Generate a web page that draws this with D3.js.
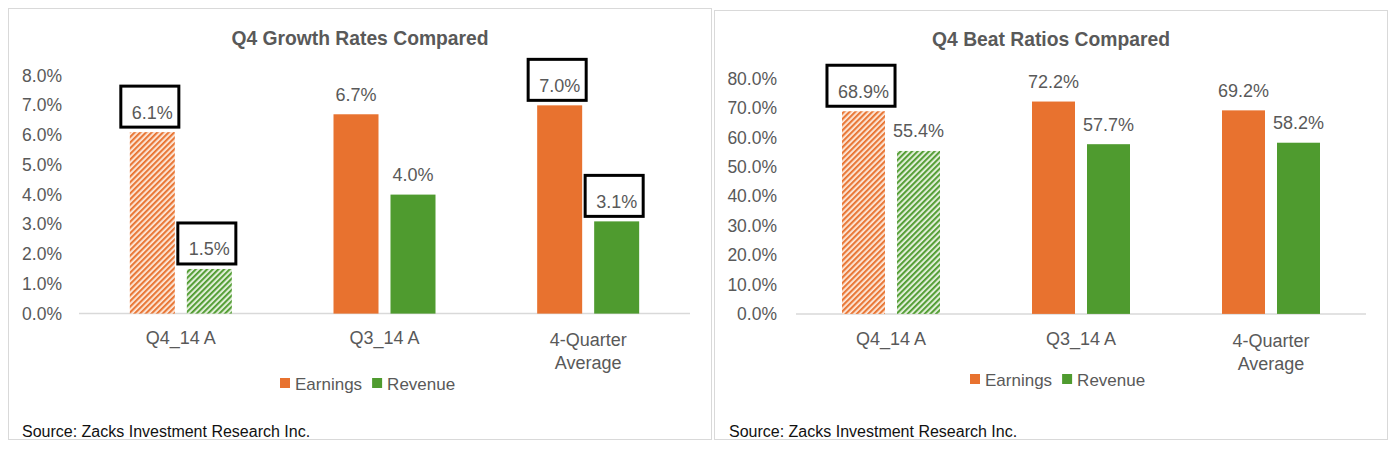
<!DOCTYPE html>
<html>
<head>
<meta charset="utf-8">
<script src="https://cdn.jsdelivr.net/npm/d3@7"></script>
<style>
  html, body { margin: 0; padding: 0; background: #ffffff; }
  svg { display: block; }
</style>
</head>
<body>
<svg id="chart" width="1398" height="449"></svg>
<script>
// ---------- DATA ----------
const categories = ["Q4_14 A", "Q3_14 A", "4-Quarter Average"];
const seriesNames = ["Earnings", "Revenue"];
const growthEarnings = [6.1, 6.7, 7.0];
const growthRevenue = [1.5, 4.0, 3.1];
const beatEarnings = [68.9, 72.2, 69.2];
const beatRevenue = [55.4, 57.7, 58.2];
const growthTicks = [0, 1, 2, 3, 4, 5, 6, 7, 8];
const beatTicks = [0, 10, 20, 30, 40, 50, 60, 70, 80];
const hatchedCategory = [true, false, false];          // Q4_14 A still in progress
const growthEarningsBoxed = [true, false, true];
const growthRevenueBoxed = [true, false, true];
const beatEarningsBoxed = [true, false, false];
const beatRevenueBoxed = [false, false, false];
const sourceText = "Source: Zacks Investment Research Inc.";

// ---------- STYLE ----------
const ORANGE = "#E8722F", GREEN = "#4F9B2F";
const ORANGE_LIGHT = "#F9CDB0", GREEN_LIGHT = "#CBE3BC";
const TEXT = "#595959";
const SANS = "'Liberation Sans', Arial, sans-serif";

const svg = d3.select("#chart");
const defs = svg.append("defs");
function hatch(id, dark, light) {
  const p = defs.append("pattern").attr("id", id)
    .attr("patternUnits", "userSpaceOnUse").attr("width", 4).attr("height", 4)
    .attr("patternTransform", "rotate(45)");
  p.append("rect").attr("width", 4).attr("height", 4).attr("fill", "#ffffff");
  p.append("rect").attr("x", 2.2).attr("width", 1.2).attr("height", 4).attr("fill", light);
  p.append("rect").attr("x", 0).attr("width", 1.9).attr("height", 4).attr("fill", dark);
}
hatch("hatchE", ORANGE, ORANGE_LIGHT);
hatch("hatchR", GREEN, GREEN_LIGHT);

const panels = [
  {
    title: "Q4 Growth Rates Compared", earnings: growthEarnings, revenue: growthRevenue,
    eBox: growthEarningsBoxed, rBox: growthRevenueBoxed, ticks: growthTicks, max: 8,
    frame: [8.5, 8.5, 703, 431], titleX: 360, titleY: 45,
    x0: 79, x1: 690, yBase: 313.6, yTop: 75.6, tickEnd: 62, half: 51,
    catY: 344, legendX: 280, legendY: 390, sourceX: 22, sourceY: 437
  },
  {
    title: "Q4 Beat Ratios Compared", earnings: beatEarnings, revenue: beatRevenue,
    eBox: beatEarningsBoxed, rBox: beatRevenueBoxed, ticks: beatTicks, max: 80,
    frame: [714.5, 10.5, 673, 429], titleX: 1051, titleY: 46,
    x0: 796, x1: 1366, yBase: 313.9, yTop: 78.6, tickEnd: 777, half: 49,
    catY: 345, legendX: 970, legendY: 386, sourceX: 729, sourceY: 437
  }
];

panels.forEach(P => {
  const g = svg.append("g");
  g.append("rect").attr("x", P.frame[0]).attr("y", P.frame[1])
    .attr("width", P.frame[2]).attr("height", P.frame[3])
    .attr("fill", "#fff").attr("stroke", "#d9d9d9").attr("stroke-width", 1);

  g.append("text").attr("x", P.titleX).attr("y", P.titleY)
    .attr("text-anchor", "middle").attr("fill", TEXT)
    .attr("font-family", SANS).attr("font-weight", "bold").attr("font-size", 19.3)
    .text(P.title);

  const y = d3.scaleLinear().domain([0, P.max]).range([P.yBase, P.yTop]);
  const x = d3.scaleBand().domain(categories).range([P.x0, P.x1]).paddingInner(0).paddingOuter(0);
  const bw = x.bandwidth();
  const xs = d3.scaleBand().domain(seriesNames)
    .range([bw / 2 - P.half, bw / 2 + P.half]).paddingInner(12 / (P.half + 6)).paddingOuter(0);

  // y axis labels
  const yAxis = d3.axisLeft(y).tickValues(P.ticks).tickSize(0)
    .tickPadding(P.x0 - P.tickEnd).tickFormat(d => d.toFixed(1) + "%");
  const ya = g.append("g").attr("transform", `translate(${P.x0},0)`).call(yAxis);
  ya.select(".domain").remove();
  ya.selectAll("text").attr("fill", TEXT).attr("font-family", SANS).attr("font-size", 17.5);

  // baseline
  g.append("line").attr("x1", P.x0).attr("x2", P.x1)
    .attr("y1", y(0)).attr("y2", y(0))
    .attr("stroke", "#d9d9d9").attr("stroke-width", 1.5);

  const rows = categories.map((c, i) => ({
    cat: c, i,
    vals: [
      { s: "Earnings", v: P.earnings[i], box: P.eBox[i] },
      { s: "Revenue", v: P.revenue[i], box: P.rBox[i] }
    ]
  }));

  const grp = g.selectAll(".grp").data(rows).join("g")
    .attr("transform", d => `translate(${x(d.cat)},0)`);

  grp.selectAll("rect.bar").data(d => d.vals.map(v => Object.assign({ hatched: hatchedCategory[d.i] }, v)))
    .join("rect").attr("class", "bar")
    .attr("x", d => xs(d.s)).attr("width", xs.bandwidth())
    .attr("y", d => y(d.v)).attr("height", d => y(0) - y(d.v))
    .attr("fill", d => d.hatched ? (d.s === "Earnings" ? "url(#hatchE)" : "url(#hatchR)")
      : (d.s === "Earnings" ? ORANGE : GREEN));

  const lab = grp.selectAll("g.lab").data(d => d.vals).join("g").attr("class", "lab");
  lab.append("text")
    .attr("x", d => xs(d.s) + xs.bandwidth() / 2)
    .attr("y", d => y(d.v) - 13.5)
    .attr("text-anchor", "middle").attr("fill", TEXT)
    .attr("font-family", SANS).attr("font-size", 18)
    .text(d => d.v.toFixed(1) + "%");
  lab.each(function (d) {
    if (!d.box) return;
    const t = d3.select(this).select("text");
    const w = t.node().getComputedTextLength();
    const cx = xs(d.s) + xs.bandwidth() / 2;
    const base = y(d.v) - 13.5;
    d3.select(this).append("rect")
      .attr("x", cx - w / 2 - 11).attr("y", base - 32.5)
      .attr("width", w + 17).attr("height", 41)
      .attr("fill", "none").attr("stroke", "#000").attr("stroke-width", 3);
  });

  // category labels
  grp.each(function (d) {
    const words = d.cat === "4-Quarter Average" ? ["4-Quarter", "Average"] : [d.cat];
    const t = d3.select(this).append("text")
      .attr("text-anchor", "middle").attr("fill", TEXT)
      .attr("font-family", SANS).attr("font-size", 18);
    words.forEach((w, k) => {
      t.append("tspan").attr("x", bw / 2).attr("y", P.catY + (words.length > 1 ? 2 : 0) + k * 23).text(w);
    });
  });

  // legend
  let lx = P.legendX;
  const colors = [ORANGE, GREEN];
  seriesNames.forEach((s, k) => {
    g.append("rect").attr("x", lx).attr("y", P.legendY - 12).attr("width", 10).attr("height", 10)
      .attr("fill", colors[k]);
    const t = g.append("text").attr("x", lx + 15).attr("y", P.legendY)
      .attr("fill", TEXT).attr("font-family", SANS).attr("font-size", 17)
      .text(s);
    lx += 15 + t.node().getComputedTextLength() + 10;
  });

  g.append("text").attr("x", P.sourceX).attr("y", P.sourceY)
    .attr("fill", "#111").attr("font-family", SANS).attr("font-size", 16)
    .text(sourceText);
});
</script>
</body>
</html>
